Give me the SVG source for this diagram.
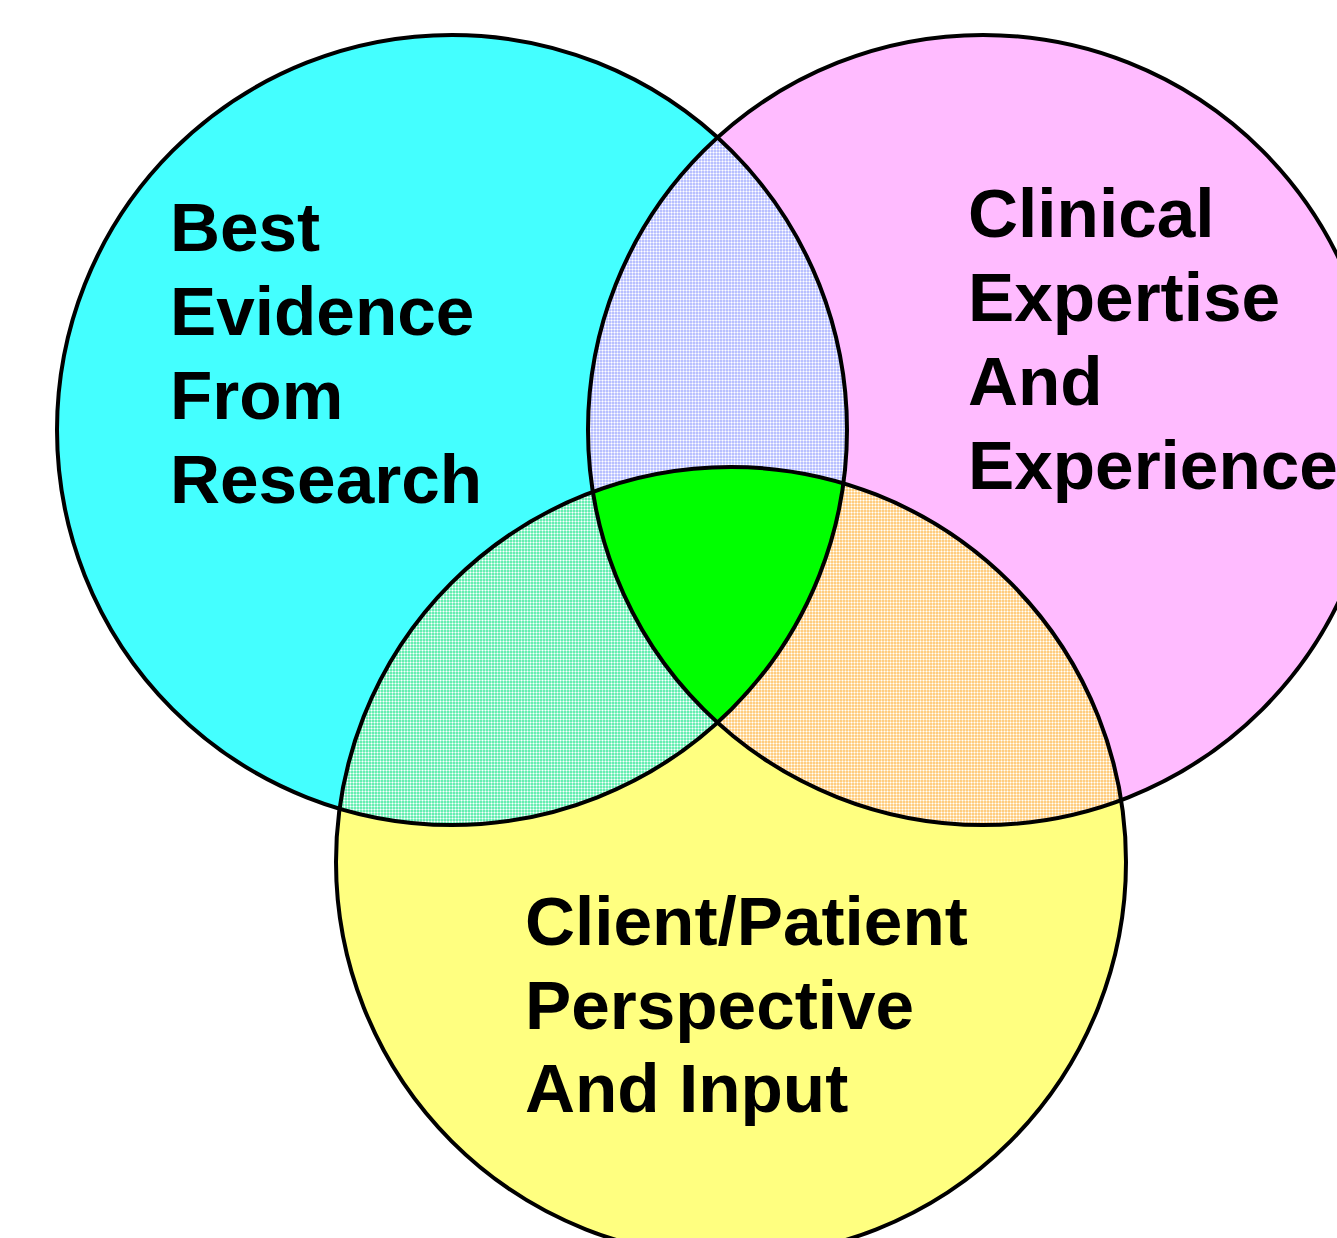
<svg xmlns="http://www.w3.org/2000/svg" width="1337" height="1238" viewBox="0 0 1337 1238">
  <style>
    .lbl { font-family: "Liberation Sans", Arial, sans-serif; font-weight: bold; font-size: 69.3px; fill: #000; }
    .ring { fill: none; stroke: #000; stroke-width: 4; }
  </style>
  <defs>
    <circle id="cA" cx="452" cy="430" r="395"/>
    <circle id="cB" cx="983" cy="430" r="395"/>
    <circle id="cC" cx="731" cy="862" r="395"/>
    <clipPath id="clipA"><use href="#cA"/></clipPath>
    <clipPath id="clipB"><use href="#cB"/></clipPath>
    <clipPath id="clipC"><use href="#cC"/></clipPath>
    <pattern id="pAB" width="3" height="3" patternUnits="userSpaceOnUse">
      <rect width="3" height="3" fill="#b8c0ff"/>
      <rect x="2" y="0" width="1" height="3" fill="#dde0ff"/>
      <rect x="0" y="2" width="3" height="1" fill="#dde0ff"/>
      <rect x="2" y="2" width="1" height="1" fill="#ffffff"/>
    </pattern>
    <pattern id="pAC" width="3" height="3" patternUnits="userSpaceOnUse">
      <rect width="3" height="3" fill="#66eeb0"/>
      <rect x="2" y="0" width="1" height="3" fill="#b0f6da"/>
      <rect x="0" y="2" width="3" height="1" fill="#b0f6da"/>
      <rect x="2" y="2" width="1" height="1" fill="#ffffff"/>
    </pattern>
    <pattern id="pBC" width="3" height="3" patternUnits="userSpaceOnUse">
      <rect width="3" height="3" fill="#ffcc80"/>
      <rect x="2" y="0" width="1" height="3" fill="#ffe6bb"/>
      <rect x="0" y="2" width="3" height="1" fill="#ffe6bb"/>
      <rect x="2" y="2" width="1" height="1" fill="#ffffff"/>
    </pattern>
  </defs>
  <rect width="1337" height="1238" fill="#ffffff"/>

  <g id="research">
    <use href="#cA" fill="#44ffff"/>
  </g>
  <g id="clinical">
    <use href="#cB" fill="#ffbbff"/>
  </g>
  <g id="patient">
    <use href="#cC" fill="#ffff80"/>
  </g>

  <g id="overlaps">
    <g clip-path="url(#clipA)"><use href="#cB" fill="url(#pAB)"/></g>
    <g clip-path="url(#clipA)"><use href="#cC" fill="url(#pAC)"/></g>
    <g clip-path="url(#clipB)"><use href="#cC" fill="url(#pBC)"/></g>
    <g clip-path="url(#clipA)"><g clip-path="url(#clipB)"><use href="#cC" fill="#00ff00"/></g></g>
  </g>

  <g id="outlines">
    <use href="#cA" class="ring"/>
    <use href="#cB" class="ring"/>
    <use href="#cC" class="ring"/>
  </g>

  <g id="label-research">
    <text class="lbl" x="170" y="251">Best</text>
    <text class="lbl" x="170" y="335">Evidence</text>
    <text class="lbl" x="170" y="419">From</text>
    <text class="lbl" x="170" y="503">Research</text>
  </g>
  <g id="label-clinical">
    <text class="lbl" x="968" y="237">Clinical</text>
    <text class="lbl" x="968" y="321">Expertise</text>
    <text class="lbl" x="968" y="405">And</text>
    <text class="lbl" x="968" y="489">Experience</text>
  </g>
  <g id="label-patient">
    <text class="lbl" x="525" y="945">Client/Patient</text>
    <text class="lbl" x="525" y="1029">Perspective</text>
    <text class="lbl" x="525" y="1112">And Input</text>
  </g>
</svg>
